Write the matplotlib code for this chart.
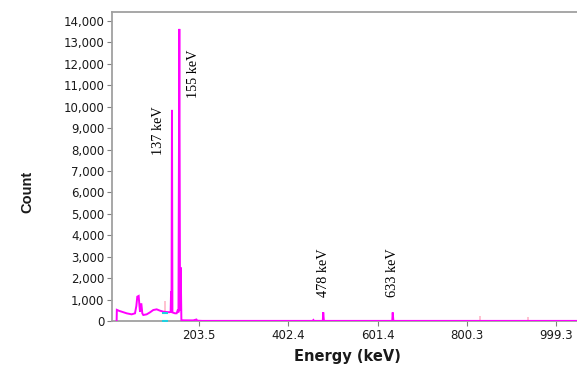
import matplotlib
matplotlib.use("Agg")
import matplotlib.pyplot as plt
from matplotlib.ticker import FixedLocator, FuncFormatter

# ---- data ----
energy_kev = [19.0, 19.5, 25.0, 30.3, 41.5, 52.5, 60.0, 63.0, 65.1, 68.2, 70.0, 71.2,
              74.1, 76.3, 78.5, 86.1, 93.5, 100.8, 108.4, 115.8, 123.2, 130.0, 136.0,
              139.5, 140.5, 141.5, 142.5, 143.5, 149.3, 153.0, 156.0, 157.0, 158.9,
              160.5, 162.0, 163.5, 170.0, 190.0, 197.0, 199.0, 210.0, 456.0, 458.0,
              459.0, 479.0, 480.0, 481.5, 634.0, 635.0, 636.5, 1046.0]
counts = [0, 520, 470, 435, 358, 311, 358, 700, 1135, 1170, 700, 435,
          825, 358, 280, 311, 404, 513, 544, 482, 435, 420, 410,
          420, 1380, 430, 9850, 400, 358, 360, 545, 400, 13630,
          500, 2500, 35, 30, 28, 70, 15, 5, 5, 45,
          5, 5, 405, 5, 5, 400, 5, 5]

# faint secondary traces
pink_energy = [127.0, 830.0, 936.0]
pink_low = [430, 0, 0]
pink_high = [930, 233, 200]
cyan_energy = [127.0, 127.0]
cyan_counts = [390, 0]

# peak labels
peak_labels = ["137 keV", "155 keV", "478 keV", "633 keV"]
label_x = [113.0, 189.5, 481.5, 635.5]
label_y = [8900, 11550, 2240, 2240]

x_ticks = [203.5, 402.4, 601.4, 800.3, 999.3]
y_ticks = list(range(0, 14001, 1000))

# ---- figure ----
fig = plt.figure(figsize=(5.77, 3.65), dpi=100)
ax = fig.add_axes([112 / 577, 44 / 365, 1 - 112 / 577, (321 - 12) / 365])

ax.vlines(pink_energy, pink_low, pink_high, colors="#ffb6c8", linewidth=1.2, zorder=2)
ax.plot(energy_kev, counts, color="#ff00ff", linewidth=1.4, zorder=3,
        solid_joinstyle="miter")
ax.plot(cyan_energy, cyan_counts, linestyle="none", marker="_", markersize=4,
        color="#20d0e0", markeredgewidth=1.5, zorder=4)

for t, x, y in zip(peak_labels, label_x, label_y):
    ax.text(x, y, t, rotation=90, ha="center", va="center",
            fontfamily="Liberation Serif", fontsize=10.3, color="black")

ax.set_xlim(8.7, 1046.2)
ax.set_ylim(0, 14420)

ax.xaxis.set_major_locator(FixedLocator(x_ticks))
ax.xaxis.set_major_formatter(FuncFormatter(lambda v, p: f"{v:.1f}"))
ax.yaxis.set_major_locator(FixedLocator(y_ticks))
ax.yaxis.set_major_formatter(FuncFormatter(lambda v, p: f"{int(v):,}"))

for spine in ["left", "bottom", "top"]:
    ax.spines[spine].set_color("#a0a0a0")
    ax.spines[spine].set_linewidth(1.3)
ax.spines["right"].set_visible(False)

ax.tick_params(axis="both", direction="out", length=3.5, width=0.8, color="#808080",
               pad=2, labelsize=8.5, labelcolor="#1a1a1a")
for lab in ax.get_xticklabels() + ax.get_yticklabels():
    lab.set_fontfamily("DejaVu Sans")

fig.text(27 / 577, 1 - 192 / 365, "Count", rotation=90, ha="center", va="center",
         fontfamily="Liberation Sans", fontweight="bold", fontsize=10.5, color="#1a1a1a")
fig.text(347 / 577, 1 - 357 / 365, "Energy (keV)", ha="center", va="center",
         fontfamily="DejaVu Sans", fontweight="bold", fontsize=10.5, color="#1a1a1a")

fig.savefig("out.png", dpi=100)
